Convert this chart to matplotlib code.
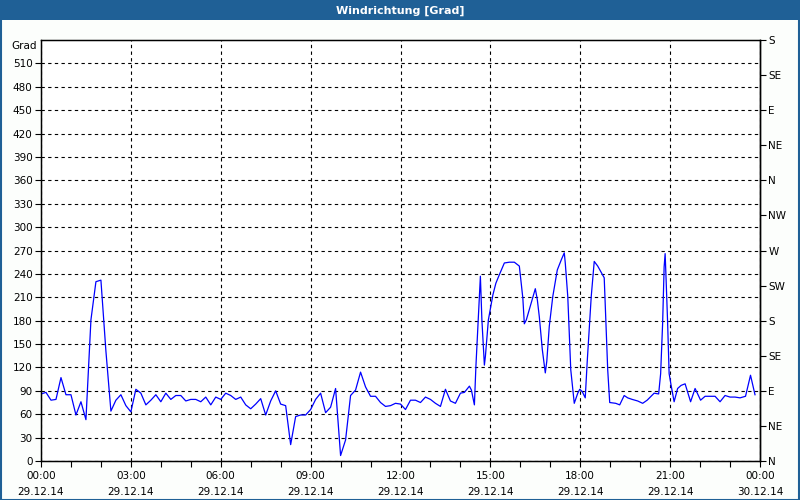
import matplotlib
matplotlib.use("Agg")
import matplotlib.pyplot as plt
from matplotlib.patches import Rectangle
import numpy as np

# ---- data (time in minutes after 29.12.14 00:00, wind direction in degrees) ----
early_vals = [86, 88, 78, 79, 107, 85, 85, 59, 76, 53, 181, 230, 232, 141, 64, 78, 85, 71,
              63, 92, 87, 72, 78, 85, 76, 87, 79, 84, 84, 77, 79, 79, 76, 82, 72, 82,
              79, 87, 84, 79, 82, 72, 67, 73, 80, 59, 77, 90, 73, 71, 21, 57, 59, 59,
              66, 79, 87, 62, 69, 93, 7, 27, 84, 91, 114, 95, 83, 83, 75, 70, 71, 74,
              73, 66, 78, 78, 75, 82, 79, 74, 70, 92, 77, 74, 87]
early_mins = list(range(0, 10 * len(early_vals), 10))

late_mins = [848, 858, 862, 868, 871, 876, 880, 883, 888, 890, 896, 905, 911, 918, 928, 938,
             948, 958, 965, 968, 972, 982, 990, 994, 998, 1004, 1010, 1013, 1018, 1025, 1034,
             1042, 1048, 1050, 1055, 1061, 1068, 1075, 1079, 1084, 1090, 1094, 1102, 1108,
             1115, 1121, 1128, 1135, 1139, 1151, 1159, 1168, 1175, 1184, 1195, 1205, 1214,
             1228, 1237, 1241, 1245, 1248, 1250, 1252, 1255, 1258, 1262, 1268, 1275, 1282,
             1290, 1301, 1310, 1321, 1330, 1340, 1350, 1360, 1370, 1380, 1390, 1400, 1411,
             1421, 1430]
late_vals = [88, 96, 91, 72, 121, 185, 237, 181, 123, 134, 181, 213, 228, 239, 254, 255,
             255, 250, 209, 176, 181, 203, 221, 207, 185, 143, 113, 128, 173, 211, 245,
             258, 267, 254, 211, 117, 74, 87, 92, 89, 81, 128, 211, 256, 250, 243, 235, 117,
             75, 74, 72, 84, 81, 79, 77, 74, 78, 87, 86, 112, 177, 249, 266, 232, 177, 112,
             97, 76, 93, 97, 99, 76, 93, 78, 83, 83, 83, 76, 84, 82, 82, 81, 83, 110, 85]

y_ticks = list(range(0, 541, 30))
y_labels = [str(v) for v in range(0, 511, 30)]
compass_ticks = list(range(0, 541, 45))
compass_labels = ["N", "NE", "E", "SE", "S", "SW", "W", "NW", "N", "NE", "E", "SE", "S"]
x_major_hours = list(range(0, 25, 3))
x_time_labels = ["00:00", "03:00", "06:00", "09:00", "12:00", "15:00", "18:00", "21:00", "00:00"]
x_date_labels = ["29.12.14"] * 8 + ["30.12.14"]
title = "Windrichtung [Grad]"
unit = "Grad"

mins = np.array(early_mins + late_mins)
vals = np.array(early_vals + late_vals)

W, H = 800, 500
fig = plt.figure(figsize=(8, 5), dpi=100, facecolor="#fcfefc")

# title bar & border
blue = "#1f6096"
fig.patches.append(Rectangle((0, 1 - 20 / H), 1, 20 / H, transform=fig.transFigure,
                             facecolor=blue, edgecolor="none", zorder=0))
fig.patches.append(Rectangle((0.5 / W, 0.5 / H), 1 - 1.5 / W, 1 - 1.5 / H, transform=fig.transFigure,
                             facecolor="none", edgecolor=blue, linewidth=1.5, zorder=5))
fig.text(0.5, 1 - 10.5 / H, title, color="white", fontsize=8, fontweight="bold",
         ha="center", va="center")

left, right, bottom, top = 41, 760, 461, 40
ax = fig.add_axes([left / W, 1 - bottom / H, (right - left) / W, (bottom - top) / H])
ax.set_facecolor("white")
ax.plot(mins / 60.0, vals, color="#0000ff", linewidth=0.9, zorder=3)

ax.set_xlim(0, 24)
ax.set_ylim(0, 540)

ax.set_yticks(y_ticks[:-1])
ax.set_yticklabels(y_labels, fontsize=7.5)
ax.set_xticks(x_major_hours)
ax.set_xticklabels([f"{t}\n{d}" for t, d in zip(x_time_labels, x_date_labels)],
                   fontsize=7.5, linespacing=1.75)
ax.set_xticks(range(0, 25), minor=True)
ax.tick_params(axis="both", which="both", direction="out", length=4, width=0.8, color="black")
ax.tick_params(axis="x", pad=3)
ax.tick_params(axis="y", pad=2)

for s in ["left", "bottom", "right"]:
    ax.spines[s].set_linewidth(1.0)
    ax.spines[s].set_color("black")
ax.spines["top"].set_visible(True)
ax.spines["top"].set_linewidth(1.0)

ax.grid(True, which="major", color="black", linestyle=(0, (3, 3)), linewidth=0.8)
ax.set_axisbelow(True)

ax2 = ax.twinx()
ax2.set_ylim(0, 540)
ax2.set_yticks(compass_ticks)
ax2.set_yticklabels(compass_labels, fontsize=7.5)
ax2.tick_params(axis="y", direction="out", length=4, width=0.8, pad=2)
ax2.spines["right"].set_linewidth(1.0)

fig.text((left - 4) / W, 1 - 46 / H, unit, fontsize=7.5, ha="right", va="center")

fig.savefig("out.png", dpi=100, facecolor=fig.get_facecolor())
